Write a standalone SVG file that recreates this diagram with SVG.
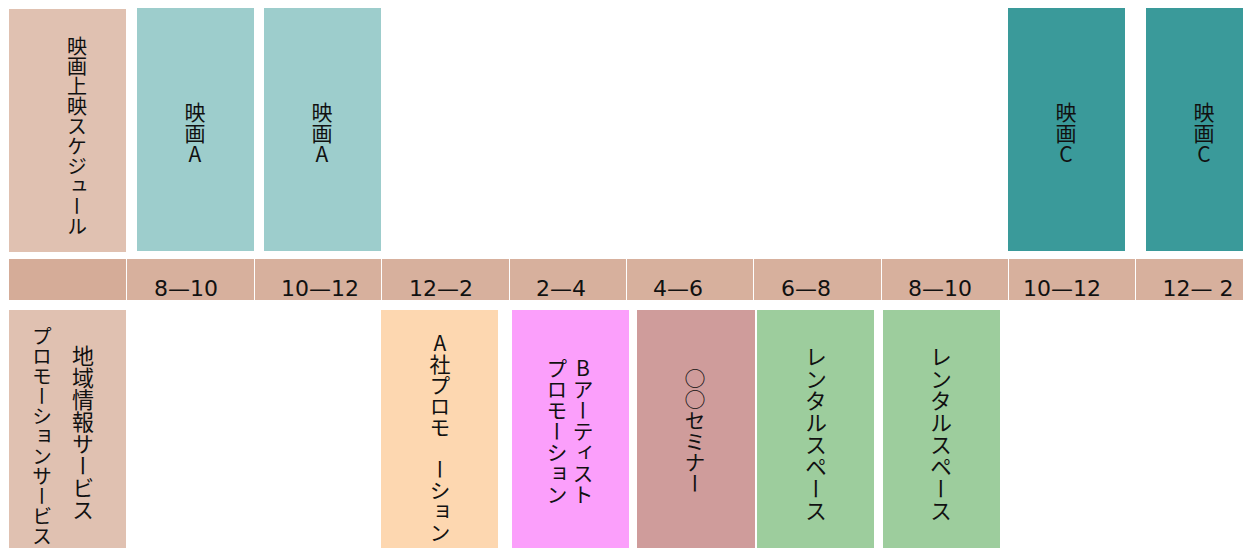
<svg xmlns="http://www.w3.org/2000/svg" width="1243" height="548" viewBox="0 0 1243 548">
<style>
.v{font-family:"Noto Sans CJK JP","DejaVu Sans",sans-serif;writing-mode:vertical-rl;text-orientation:upright;fill:#111;}
.t{font-family:"DejaVu Sans","Noto Sans CJK JP",sans-serif;font-size:22px;text-anchor:middle;fill:#111;}
.hdr{fill:#e0c1b1;}
.ma{fill:#9dcdcc;}
.mc{fill:#3a9a9a;}
.bar{fill:#d7b09d;}
</style>
<rect width="1243" height="548" fill="#ffffff"/>
<g id="header-movie">
<rect class="hdr" x="9" y="9" width="117" height="243"/>
<text class="v" x="77" y="36" font-size="20">映画上映スケジュール</text>
</g>
<g id="movieA-1">
<rect class="ma" x="137" y="8" width="117" height="243"/>
<text class="v" x="195" y="102" font-size="21">映画A</text>
</g>
<g id="movieA-2">
<rect class="ma" x="264" y="8" width="117" height="243"/>
<text class="v" x="322" y="102" font-size="21">映画A</text>
</g>
<g id="movieC-1">
<rect class="mc" x="1008" y="8" width="117" height="243"/>
<text class="v" x="1066" y="102" font-size="21">映画C</text>
</g>
<g id="movieC-2">
<rect class="mc" x="1146" y="8" width="97" height="243"/>
<text class="v" x="1204" y="102" font-size="21">映画C</text>
</g>
<g id="timebar">
<rect x="9" y="259" width="117" height="41" fill="#d5ac98"/>
<rect class="bar" x="127" y="259" width="127" height="41"/>
<rect class="bar" x="255" y="259" width="126" height="41"/>
<rect class="bar" x="382" y="259" width="127" height="41"/>
<rect class="bar" x="510" y="259" width="116" height="41"/>
<rect class="bar" x="627" y="259" width="126" height="41"/>
<rect class="bar" x="754" y="259" width="127" height="41"/>
<rect class="bar" x="882" y="259" width="126" height="41"/>
<rect class="bar" x="1009" y="259" width="126" height="41"/>
<rect class="bar" x="1136" y="259" width="107" height="41"/>
<text class="t" x="186" y="296">8—10</text>
<text class="t" x="320" y="296">10—12</text>
<text class="t" x="441" y="296">12—2</text>
<text class="t" x="561" y="296">2—4</text>
<text class="t" x="678" y="296">4—6</text>
<text class="t" x="806" y="296">6—8</text>
<text class="t" x="940" y="296">8—10</text>
<text class="t" x="1062" y="296">10—12</text>
<text class="t" x="1198" y="296">12— 2</text>
</g>
<g id="header-promo">
<rect class="hdr" x="9" y="310" width="117" height="238"/>
<text class="v" x="83" y="345" font-size="22">地域情報サービス</text>
<text class="v" x="42" y="326" font-size="20">プロモーションサービス</text>
</g>
<g id="promo-A">
<rect x="381" y="310" width="117" height="238" fill="#fdd7b0"/>
<text class="v" x="440" y="333" font-size="21">A社プロモ ーション</text>
</g>
<g id="promo-B">
<rect x="512" y="310" width="117" height="238" fill="#fb9ffb"/>
<text class="v" x="583" y="358" font-size="21">Bアーティスト</text>
<text class="v" x="557" y="358" font-size="21">プロモーション</text>
</g>
<g id="seminar">
<rect x="637" y="310" width="118" height="238" fill="#cf9c9b"/>
<text class="v" x="695" y="368" font-size="21">○○セミナー</text>
</g>
<g id="rental-1">
<rect x="757" y="310" width="117" height="238" fill="#9dcd9d"/>
<text class="v" x="816" y="346" font-size="22">レンタルスペース</text>
</g>
<g id="rental-2">
<rect x="883" y="310" width="117" height="238" fill="#9dcd9d"/>
<text class="v" x="941" y="346" font-size="22">レンタルスペース</text>
</g>
</svg>
